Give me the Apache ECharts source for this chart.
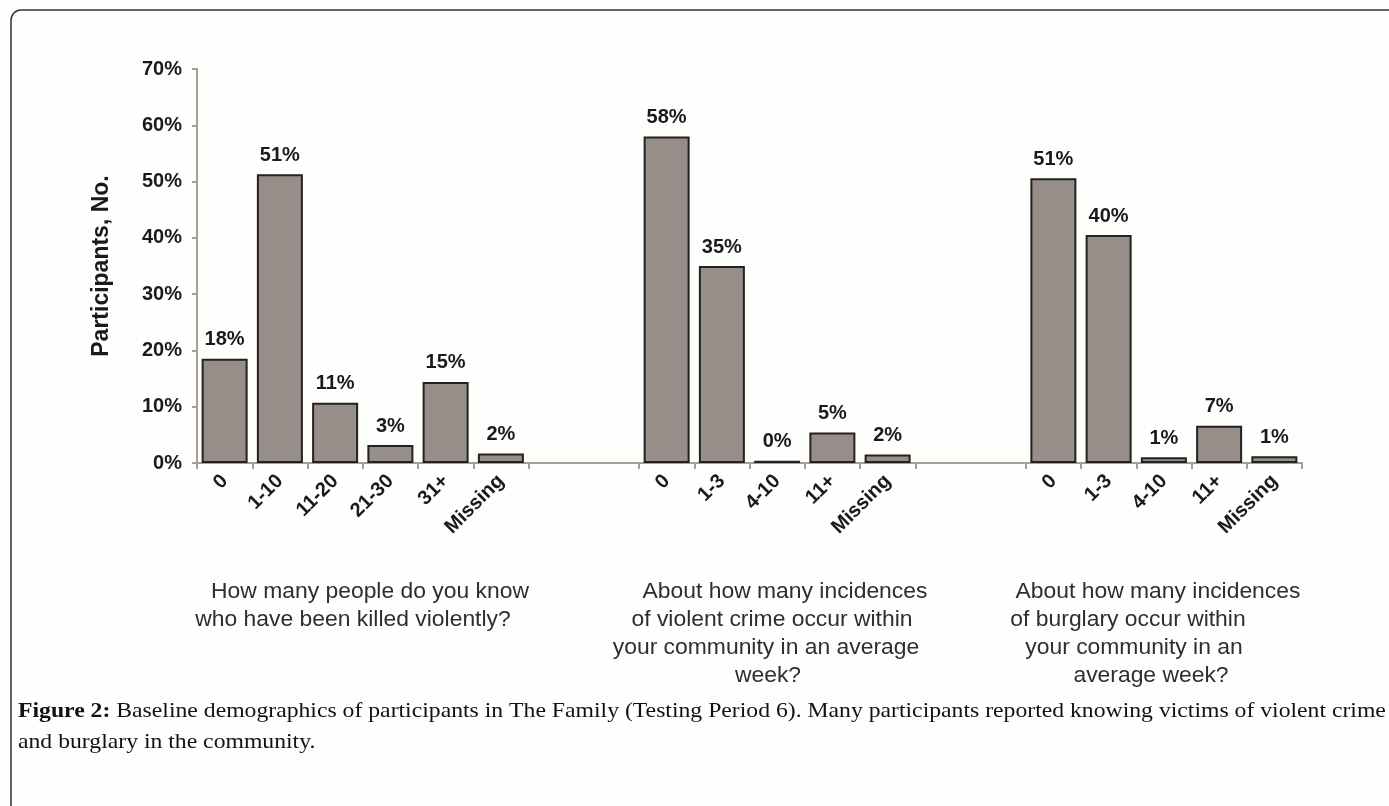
<!DOCTYPE html>
<html>
<head>
<meta charset="utf-8">
<script src="https://cdn.jsdelivr.net/npm/echarts@6/dist/echarts.min.js"></script>
<style>
  html, body { margin: 0; padding: 0; background: #fefefd; }
  #chart { width: 1389px; height: 806px; }
</style>
</head>
<body>
<div id="chart"></div>
<script>
// ---- Data ----
const q1Categories = ['0', '1-10', '11-20', '21-30', '31+', 'Missing'];
const q1Values = [18.5, 51.3, 10.7, 3.2, 14.4, 1.7];
const q1Labels = ['18%', '51%', '11%', '3%', '15%', '2%'];

const q2Categories = ['0', '1-3', '4-10', '11+', 'Missing'];
const q2Values = [58.0, 35.0, 0.4, 5.4, 1.5];
const q2Labels = ['58%', '35%', '0%', '5%', '2%'];

const q3Categories = ['0', '1-3', '4-10', '11+', 'Missing'];
const q3Values = [50.6, 40.5, 1.0, 6.6, 1.2];
const q3Labels = ['51%', '40%', '1%', '7%', '1%'];

const yTicks = ['0%', '10%', '20%', '30%', '40%', '50%', '60%', '70%'];

const q1Question = ['How many people do you know', 'who have been killed violently?'];
const q2Question = ['About how many incidences', 'of violent crime occur within', 'your community in an average', 'week?'];
const q3Question = ['About how many incidences', 'of burglary occur within', 'your community in an', 'average week?'];

const captionBold = 'Figure 2:';
const captionLine1 = ' Baseline demographics of participants in The Family (Testing Period 6). Many participants reported knowing victims of violent crime';
const captionLine2 = 'and burglary in the community.';

// ---- Build a single category axis with empty spacer slots between groups ----
const GAP = 2;
const groups = [
  { cats: q1Categories, vals: q1Values, labels: q1Labels },
  { cats: q2Categories, vals: q2Values, labels: q2Labels },
  { cats: q3Categories, vals: q3Values, labels: q3Labels }
];
const categories = [];
const values = [];
const labels = [];
const hiddenTicks = new Set();
groups.forEach((g, gi) => {
  g.cats.forEach((c, i) => {
    categories.push(c);
    values.push(g.vals[i]);
    labels.push(g.labels[i]);
  });
  if (gi < groups.length - 1) {
    for (let k = 0; k < GAP; k++) {
      if (k > 0) hiddenTicks.add(categories.length);
      categories.push('');
      values.push('-');
      labels.push('');
    }
  }
});

const chart = echarts.init(document.getElementById('chart'));

const axisGray = '#a59e99';
const textDark = '#1a1a1a';
const qColor = '#2e2e2e';
const sans = '"Liberation Sans", Arial, sans-serif';
const serif = '"Liberation Serif", "Times New Roman", serif';

// Question text positions (centers of each line)
const qLayout = [
  { lines: q1Question, xs: [370, 353], y0: 592 },
  { lines: q2Question, xs: [785, 772, 766, 768], y0: 592 },
  { lines: q3Question, xs: [1158, 1128, 1134, 1151], y0: 592 }
];
const graphics = [];
qLayout.forEach(q => {
  q.lines.forEach((line, i) => {
    graphics.push({
      type: 'text',
      x: q.xs[i],
      y: q.y0 + i * 28,
      scaleX: 1.04,
      style: {
        text: line,
        font: '22px ' + sans,
        fill: qColor,
        textAlign: 'center',
        textVerticalAlign: 'middle'
      }
    });
  });
});

// Y axis name
graphics.push({
  type: 'text',
  x: 102,
  y: 266,
  rotation: Math.PI / 2,
  style: {
    text: 'Participants, No.',
    font: 'bold 23px ' + sans,
    fill: textDark,
    textAlign: 'center',
    textVerticalAlign: 'middle'
  }
});

// Caption
graphics.push({
  type: 'text',
  x: 18,
  y: 711,
  scaleX: 1.077,
  style: {
    text: '{b|' + captionBold + '}' + captionLine1,
    font: '22px ' + serif,
    fill: '#111',
    textAlign: 'left',
    textVerticalAlign: 'middle',
    rich: {
      b: { fontWeight: 'bold', fontSize: 22, fontFamily: serif, fill: '#111' }
    }
  }
});
graphics.push({
  type: 'text',
  x: 18,
  y: 742,
  scaleX: 1.077,
  style: {
    text: captionLine2,
    font: '22px ' + serif,
    fill: '#111',
    textAlign: 'left',
    textVerticalAlign: 'middle'
  }
});

// Frame
graphics.push({
  type: 'rect',
  shape: { x: 11, y: 10, width: 1420, height: 840, r: 10 },
  style: { fill: 'none', stroke: '#333', lineWidth: 1.5 },
  silent: true
});

chart.setOption({
  backgroundColor: '#fefefd',
  animation: false,
  grid: { left: 197, right: 87, top: 69, bottom: 343, containLabel: false },
  xAxis: {
    type: 'category',
    data: categories,
    boundaryGap: true,
    axisLine: { show: true, lineStyle: { color: axisGray, width: 2 } },
    axisTick: {
      show: true,
      length: 6,
      lineStyle: { color: axisGray, width: 2 },
      interval: function (index) { return !hiddenTicks.has(index); }
    },
    axisLabel: {
      interval: 0,
      rotate: 45,
      margin: 15,
      fontSize: 20,
      fontWeight: 'bold',
      fontFamily: sans,
      color: textDark
    },
    splitLine: { show: false }
  },
  yAxis: {
    type: 'value',
    min: 0,
    max: 70,
    interval: 10,
    axisLine: { show: true, lineStyle: { color: axisGray, width: 2 } },
    axisTick: { show: true, length: 5, lineStyle: { color: axisGray, width: 2 } },
    axisLabel: {
      margin: 15,
      fontSize: 20,
      fontWeight: 'bold',
      fontFamily: sans,
      color: textDark,
      formatter: function (v) { return yTicks[Math.round(v / 10)]; }
    },
    splitLine: { show: false }
  },
  series: [{
    type: 'bar',
    data: values,
    barWidth: 46,
    itemStyle: { color: '#978e89', borderColor: '#222', borderWidth: 2 },
    label: {
      show: true,
      position: 'top',
      distance: 9,
      fontSize: 20,
      fontWeight: 'bold',
      fontFamily: sans,
      color: textDark,
      formatter: function (p) { return labels[p.dataIndex]; }
    }
  }],
  graphic: graphics
});
</script>
</body>
</html>
